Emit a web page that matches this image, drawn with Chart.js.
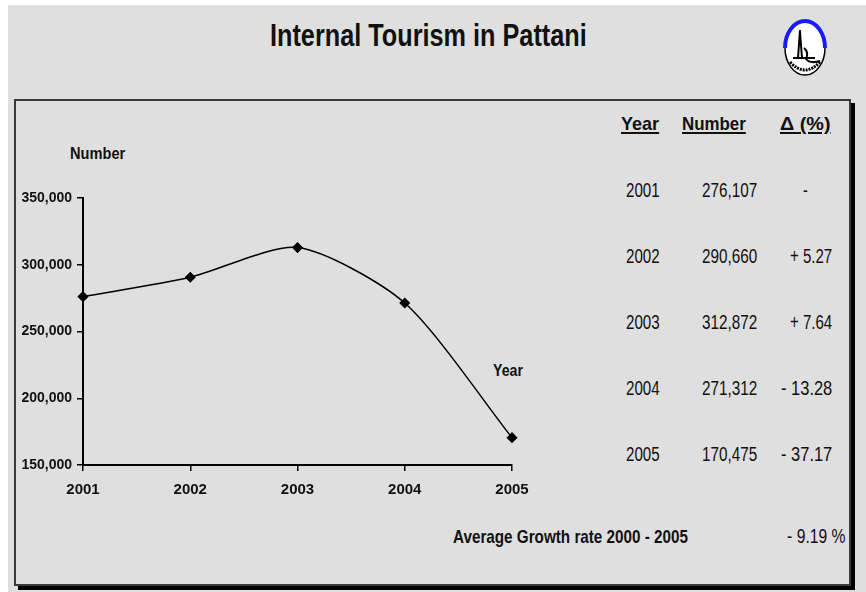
<!DOCTYPE html>
<html>
<head>
<meta charset="utf-8">
<script src="https://cdn.jsdelivr.net/npm/chart.js@4.4.1/dist/chart.umd.min.js"></script>
<style>
    html, body { margin: 0; padding: 0; }
    body {
        width: 866px; height: 592px; position: relative; overflow: hidden;
        background: #fff;
        font-family: "Liberation Sans", Arial, sans-serif;
    }
    #page { position: absolute; left: 8px; top: 5px; right: 0; bottom: 0; background: #dfdfdf; }
    #box {
        position: absolute; left: 14px; top: 99px; width: 833px; height: 483px;
        border: 2px solid #3a3a3a; box-shadow: 4px 4px 0 #000;
    }
    #chartWrap { position: absolute; left: 0; top: 0; width: 866px; height: 592px; }
    .t { position: absolute; white-space: nowrap; color: #111; line-height: 1; }
    .b { font-weight: bold; }
    .u { text-decoration: underline; text-decoration-thickness: 2px; text-underline-offset: 2px; }
</style>
</head>
<body>
<div id="page"></div>
<svg id="logo" style="position:absolute;left:782px;top:18px" width="46" height="60" viewBox="0 0 46 60">
    <ellipse cx="23" cy="30" rx="20" ry="27" fill="#fff" stroke="#000" stroke-width="1.5"/>
    <path d="M3 30 A20 27 0 0 1 43 30" fill="none" stroke="#1a1aff" stroke-width="4"/>
    <path d="M18 12 L16 40 M18 14 L20 40 M11 40 L33 40 M22 30 Q27 34 24 41 Q28 46 38 43" fill="none" stroke="#000" stroke-width="2"/>
    <path d="M8 44 Q23 60 38 44" fill="none" stroke="#000" stroke-width="3" stroke-dasharray="2 1"/>
</svg>
<div id="box"></div>
<div id="textLayer"></div>
<div id="chartWrap"><canvas id="tourChart" width="866" height="592"></canvas></div>

<script>
// data
const years = ['2001', '2002', '2003', '2004', '2005'];
const visitors = [276107, 290660, 312872, 271312, 170475];
const changes = ['-', '+ 5.27', '+ 7.64', '- 13.28', '- 37.17'];
const yTicks = [150000, 200000, 250000, 300000, 350000];
const titleText = 'Internal Tourism in Pattani';
const avgGrowthLabel = 'Average Growth rate 2000 - 2005';
const avgGrowth = '- 9.19 %';

const FONT = '"Liberation Sans", Arial, sans-serif';

// place a text at (x,y) anchored left/right/center, squeezed to width w (narrow look)
function put(layer, text, cls, size, x, y, w, anchor) {
    const el = document.createElement('div');
    el.className = 't ' + cls;
    el.style.fontSize = size + 'px';
    el.style.top = y + 'px';
    el.textContent = text;
    layer.appendChild(el);
    const natural = el.offsetWidth;
    const k = w / natural;
    let left = x;
    if (anchor === 'right') left = x - natural;
    if (anchor === 'center') left = x - natural / 2;
    el.style.left = left + 'px';
    el.style.transformOrigin = anchor === 'right' ? 'right top' : anchor === 'center' ? 'center top' : 'left top';
    el.style.transform = `scaleX(${k})`;
}

function buildText() {
    const L = document.getElementById('textLayer');
    put(L, titleText, 'b', 31, 428, 20, 317, 'center');

    put(L, 'Year', 'b u', 19, 621, 114, 38, 'left');
    put(L, 'Number', 'b u', 19, 682, 114, 64, 'left');
    put(L, '\u0394 (%)', 'b u', 19, 780, 114, 50, 'left');

    const rowTop = [180, 246, 312, 378, 444];
    years.forEach((y, i) => {
        put(L, y, '', 20, 626, rowTop[i], 34, 'left');
        put(L, visitors[i].toLocaleString('en-US'), '', 20, 757, rowTop[i], 55, 'right');
        const ch = changes[i];
        if (ch === '-') {
            put(L, ch, '', 20, 805, rowTop[i], 5, 'center');
        } else {
            put(L, ch, '', 20, 832, rowTop[i], ch.length > 6 ? 51 : 42, 'right');
        }
    });
    put(L, avgGrowthLabel, 'b', 19, 453, 527, 235, 'left');
    put(L, avgGrowth, '', 20, 845, 526, 58, 'right');

    put(L, 'Number', 'b', 17, 70, 145, 55, 'left');
    put(L, 'Year', 'b', 17, 493, 362, 30, 'left');
}

function initChart() {
    const ctx = document.getElementById('tourChart').getContext('2d');
    new Chart(ctx, {
        type: 'line',
        data: {
            labels: years,
            datasets: [{
                data: visitors,
                borderColor: '#000',
                borderWidth: 1.5,
                tension: 0.25,
                pointStyle: 'rectRot',
                pointRadius: 4.5,
                pointBackgroundColor: '#000',
                pointBorderColor: '#000',
                fill: false
            }]
        },
        options: {
            responsive: false,
            animation: false,
            layout: { padding: { left: 0, top: 198, right: 354, bottom: 0 } },
            plugins: { legend: { display: false }, tooltip: { enabled: false } },
            scales: {
                x: {
                    offset: false,
                    afterFit: (scale) => { scale.height = 127; },
                    grid: { drawOnChartArea: false, tickLength: 6, color: '#000', lineWidth: 1.5 },
                    border: { color: '#000', width: 2 },
                    ticks: { color: '#111', padding: 10, font: { family: FONT, size: 15, weight: 'bold' } }
                },
                y: {
                    min: 150000,
                    max: 350000,
                    afterFit: (scale) => { scale.width = 83; },
                    afterBuildTicks: (scale) => { scale.ticks = yTicks.map(v => ({ value: v })); },
                    grid: { drawOnChartArea: false, tickLength: 6, color: '#000', lineWidth: 1.5 },
                    border: { color: '#000', width: 2 },
                    ticks: {
                        color: '#111', padding: 5,
                        font: { family: FONT, size: 14, weight: 'bold' },
                        callback: (v) => v.toLocaleString('en-US')
                    }
                }
            }
        }
    });
}

buildText();
initChart();
</script>
</body>
</html>
